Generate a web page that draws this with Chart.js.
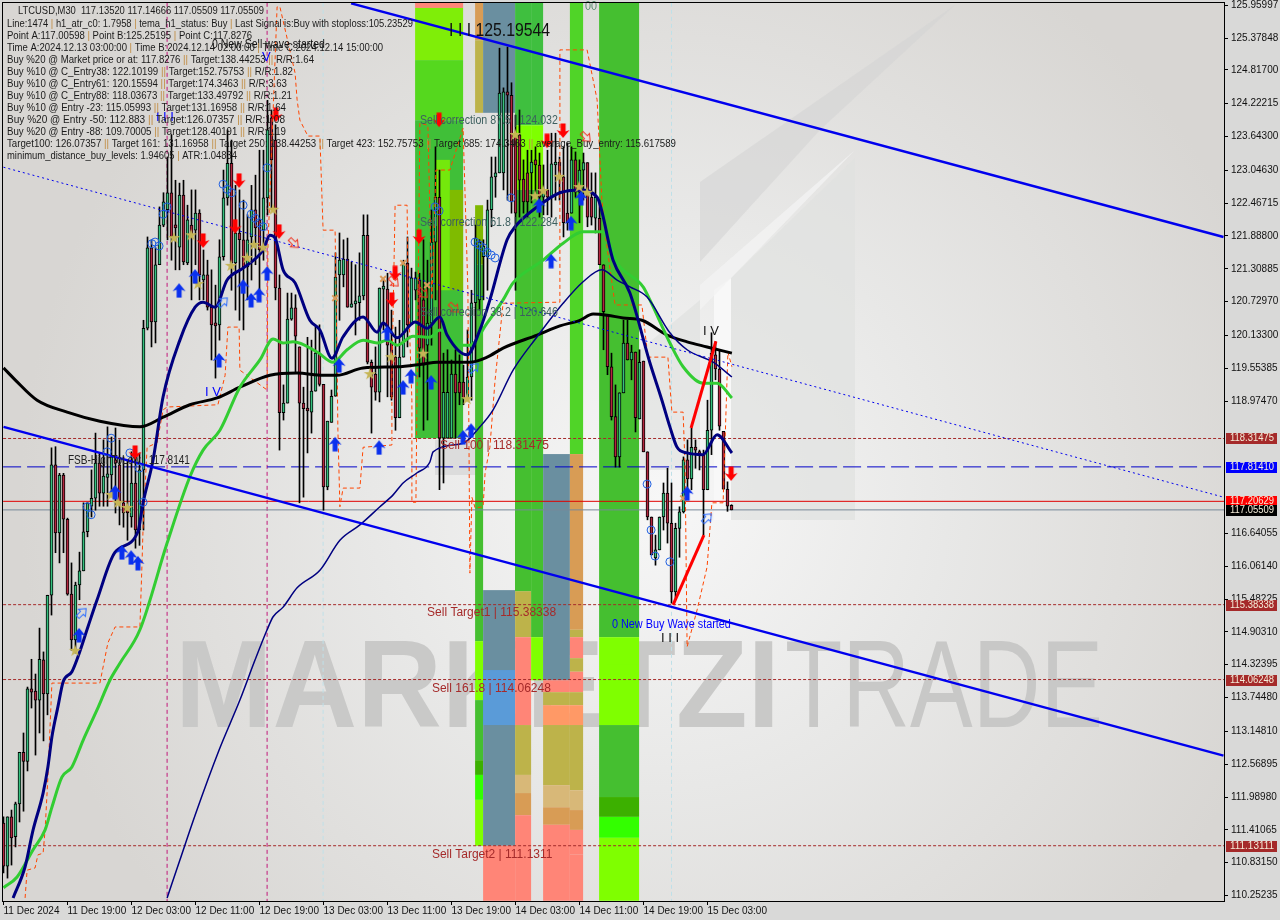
<!DOCTYPE html>
<html>
<head>
<meta charset="utf-8">
<title>LTCUSD,M30</title>
<script src="https://cdn.jsdelivr.net/npm/chart.js@4"></script>
<style>
    html, body { margin: 0; padding: 0; background: #d9d9d8; }
    #wrap { position: relative; width: 1280px; height: 920px; overflow: hidden; }
    #backdrop, #growth { position: absolute; left: 0; top: 0; }
</style>
</head>
<body>
<div id="wrap">
<svg id="backdrop" width="1280" height="920" xmlns="http://www.w3.org/2000/svg">
    <defs>
        <radialGradient id="glow" gradientUnits="userSpaceOnUse" cx="660" cy="500" r="640">
            <stop offset="0" stop-color="#f7f7f7"/>
            <stop offset="0.45" stop-color="#e8e8e7"/>
            <stop offset="1" stop-color="#d8d6d3"/>
        </radialGradient>
    </defs>
    <rect x="3" y="3" width="1221" height="898" fill="url(#glow)"/>
    <polygon points="955,5 700,182 700,262 820,130" fill="#d4d4d3" opacity="0.6"/>
    <polygon points="731,278 855,158 855,520 731,520" fill="#e0e1e0" opacity="0.7"/>
    <polygon points="714,290 731,278 731,520 714,520" fill="#f8f8f8"/>
    <polygon points="700,285 855,150 731,278 700,310" fill="#f2f2f2" opacity="0.8"/>
    <polygon points="640,350 700,300 700,470 640,470" fill="#dedfde" opacity="0.6"/>
    <polygon points="435,440 480,440 480,475 435,475" fill="#dcdcdc"/>
    <text x="175" y="727" font-family="Liberation Sans" font-weight="700" font-size="124" fill="#c9c9c8" textLength="605" lengthAdjust="spacingAndGlyphs">MARKETZI</text>
    <text x="785" y="727" font-family="Liberation Sans" font-size="124" fill="#c8c8c7" textLength="318" lengthAdjust="spacingAndGlyphs">TRADE</text>
</svg>
<canvas id="growth" width="1280" height="920"></canvas>
</div>
<script>
// Candles
const opens = [111.53,110.77,111.64,111.29,111.87,112.78,112.62,113.90,113.86,113.70,
114.41,113.81,115.55,117.85,116.65,117.67,116.89,115.57,114.76,115.73,
115.98,116.67,117.12,117.26,117.88,117.35,117.63,117.67,117.94,117.85,
117.18,117.12,116.93,117.53,116.70,117.76,120.26,121.68,120.37,121.38,
122.08,122.35,122.65,122.08,121.69,122.61,121.41,122.08,121.99,122.29,
121.11,121.20,120.63,120.35,120.32,121.52,122.56,123.17,121.41,121.94,
121.82,121.34,121.87,122.35,122.17,121.99,122.56,123.97,123.58,120.97,
118.77,118.94,120.42,120.62,119.93,118.94,118.84,118.78,119.15,119.82,
119.27,117.46,118.60,119.06,121.20,121.20,121.48,120.63,120.69,120.71,
120.83,121.90,119.66,119.45,119.13,120.95,120.95,120.00,119.75,118.68,
119.75,121.41,120.32,120.93,121.11,120.76,119.96,120.35,121.78,122.57,
118.32,118.32,118.32,119.45,119.31,119.31,119.03,119.40,120.71,120.76,
121.52,121.52,122.35,122.93,123.00,123.00,124.43,124.37,123.67,123.67,
122.89,123.00,123.00,123.23,123.14,122.57,122.70,122.57,123.14,123.19,
122.93,122.29,122.29,123.23,122.66,123.05,123.18,122.57,122.20,122.20,
121.38,120.50,119.58,118.70,117.99,119.12,120.00,119.70,119.84,118.66,
119.68,118.08,116.93,116.21,116.35,116.93,117.35,116.82,115.61,116.73,
117.02,117.94,117.60,118.16,118.06,118.03,117.41,118.46,119.79,119.54,
118.44,117.42,117.1352];
const closes = [110.77,111.64,111.27,111.87,112.78,112.62,113.90,113.84,113.70,114.42,
113.81,115.55,117.85,116.65,117.67,116.89,115.57,114.76,115.73,115.98,
116.67,117.18,117.26,117.88,117.35,117.65,117.69,117.99,117.88,117.18,
117.00,117.00,117.53,116.70,117.76,120.26,121.68,120.37,121.38,122.08,
122.49,122.65,121.87,122.03,122.61,121.43,122.17,121.90,122.29,121.20,
121.20,120.63,120.32,120.30,121.52,122.56,123.17,121.41,121.94,121.82,
121.34,121.82,122.35,122.03,121.64,122.56,123.76,123.23,120.97,118.77,
118.94,120.42,120.62,120.12,118.94,118.84,118.80,119.15,119.82,119.27,
117.46,118.62,119.06,121.16,121.46,121.48,120.63,120.69,120.71,120.83,
121.90,119.66,119.22,119.13,120.97,120.97,119.96,119.05,118.68,119.75,
121.41,120.32,121.15,121.15,119.91,119.61,120.35,121.78,122.57,118.32,
119.13,119.13,119.45,119.12,119.12,119.03,119.40,120.71,121.85,121.78,
121.71,122.35,122.93,123.00,124.41,124.43,124.37,122.49,122.29,122.87,
122.49,122.49,123.19,123.14,122.57,122.70,122.57,123.16,123.19,122.93,
122.12,122.12,123.23,122.66,123.05,123.18,122.22,122.22,122.57,121.38,
120.55,119.58,118.70,117.99,119.12,120.00,119.70,119.84,118.68,119.66,
118.08,116.93,116.26,116.35,116.93,117.35,116.82,115.61,116.73,117.02,
117.94,117.60,118.16,118.11,118.03,117.41,118.46,119.82,119.54,118.53,
117.42,117.12,117.05509];
const highs = [111.64,111.64,111.76,111.90,112.78,113.12,113.93,114.42,114.16,114.97,
114.55,115.55,118.15,118.17,117.70,117.70,116.91,116.12,115.78,116.31,
117.18,117.18,117.76,118.41,118.06,118.29,118.52,118.34,118.50,118.29,
117.99,117.94,118.08,118.11,118.06,120.40,121.87,121.82,121.68,122.40,
122.65,123.28,123.67,122.87,122.82,122.87,122.43,122.70,122.70,122.35,
121.64,121.46,121.29,121.02,121.82,123.05,123.76,123.58,122.78,122.70,
122.52,122.26,122.78,122.96,123.40,123.40,124.28,124.11,123.85,121.20,
119.26,120.88,120.88,120.85,119.93,119.22,120.10,120.05,120.28,120.32,
119.27,118.62,119.17,121.59,121.94,121.82,121.85,121.43,121.38,121.59,
122.26,122.26,119.70,119.93,120.97,121.11,121.23,120.58,120.28,120.40,
121.46,121.87,121.32,121.25,121.23,121.82,121.46,122.35,123.46,123.05,
119.82,119.88,119.70,119.88,119.79,119.61,120.23,120.93,122.08,121.82,
121.82,122.52,123.28,123.28,125.20,124.50,125.22,124.59,124.02,124.11,
123.23,123.40,123.40,123.46,123.35,123.14,123.40,123.70,123.70,123.28,
123.46,123.53,123.46,123.37,123.23,123.35,123.18,123.00,123.00,122.52,
121.38,120.50,119.82,119.26,119.12,120.40,120.40,119.96,119.84,119.88,
119.68,118.08,116.93,116.61,116.93,117.53,117.79,117.53,116.82,117.11,
117.99,118.29,118.50,118.29,118.11,118.11,118.99,120.18,120.02,119.88,
118.44,117.55,117.14666];
const lows = [110.65,110.56,110.79,111.11,111.55,111.74,112.45,113.56,112.73,113.12,
112.98,113.44,115.20,116.30,116.12,116.30,115.55,114.58,114.53,115.47,
115.98,116.58,116.93,117.05,117.12,117.12,117.12,117.35,117.00,116.79,
116.75,116.52,116.75,116.38,116.43,116.70,120.23,119.93,120.00,121.38,
122.05,121.82,121.46,121.29,121.29,121.38,121.38,120.76,121.38,120.76,
120.76,120.58,119.70,119.38,120.05,121.46,122.43,120.93,120.58,120.40,
120.23,120.76,121.11,121.38,120.76,121.46,122.26,122.35,120.76,118.11,
118.64,118.94,120.40,119.47,117.18,117.28,118.06,118.41,119.15,119.24,
117.05,117.41,118.60,119.06,120.40,120.99,120.63,120.63,120.14,120.40,
120.76,119.63,118.41,118.99,118.96,120.23,119.05,118.99,118.46,118.68,
119.75,119.93,120.32,120.76,119.40,118.46,118.64,119.96,120.76,117.41,
117.53,118.32,118.32,118.32,118.91,118.91,119.03,118.99,119.70,120.58,
120.76,120.93,122.05,122.57,123.00,122.70,122.52,122.29,120.93,122.22,
122.29,122.22,122.47,122.57,122.22,122.26,122.26,122.22,122.52,122.52,
121.87,121.99,122.29,122.57,122.12,122.52,122.05,122.08,121.94,121.38,
119.88,119.44,118.64,117.81,117.81,119.12,119.70,119.35,118.43,118.66,
118.08,116.88,116.26,116.08,116.35,116.70,116.47,115.41,115.47,116.22,
117.00,117.41,117.41,117.79,117.76,116.61,117.41,118.03,119.35,118.46,
117.42,117.03,117.05509];

// Moving averages, as bar number and price
const fastBars = [2.4,5.4,7.4,9.9,11.1,12.1,13.6,14.9,17.1,18.6,21.1,23.4,27.9,33.6,34.9,37.4,39.9,44.1,47.9,49.9,52.9,55.9,59.9,64.9,66.6,67.9,69.9,72.9,76.6,79.1,82.1,84.9,89.9,93.4,94.9,98.4,102.9,105.9,109.1,110.9,115.9,119.1,121.6,125.9,127.9,133.4,139.1,144.1,148.4,152.4,156.6,161.6,164.6,166.6,168.4,170.9,174.9,178.4,182.1];
const fastPrices = [110.21,110.76,111.41,112.06,112.52,113.05,113.58,114.02,114.20,114.46,114.99,115.47,116.31,116.67,117.18,117.94,119.05,120.05,120.63,120.72,120.63,121.11,121.32,121.64,121.90,121.85,121.29,121.06,120.40,120.23,119.73,120.11,120.46,120.19,120.35,120.09,120.37,120.26,120.46,120.14,119.79,120.23,120.76,121.82,122.05,122.40,122.65,122.70,122.57,121.46,120.88,119.65,118.99,118.52,118.16,118.06,118.03,118.38,118.06];
const greenBars = [0,3.4,7.4,10.4,12.1,14.6,17.1,19.9,23.4,26.6,29.1,34.1,40.9,46.6,49.9,54.1,59.1,64.1,67.4,69.9,72.4,78.4,82.4,85.9,89.9,93.4,95.9,98.4,102.4,106.6,109.1,114.1,116.6,120.9,124.9,127.4,134.9,139.9,144.9,149.9,153.4,159.9,161.6,166.6,169.9,174.9,178.4,182.1];
const greenPrices = [110.39,110.58,111.06,111.41,111.81,112.34,112.52,112.99,113.53,114.05,114.35,114.94,116.47,117.64,118.11,118.46,119.22,119.70,120.07,120.00,120.02,119.84,119.66,119.88,120.05,120.00,120.05,119.96,120.12,120.10,120.23,119.96,119.96,120.35,120.76,121.06,121.46,121.76,121.96,121.96,121.41,120.99,120.76,120.00,119.58,119.29,119.29,119.03];
const slowBars = [40.9,44.1,47.9,53.9,59.1,62.9,65.9,67.4,69.9,73.4,79.1,84.1,89.1,94.1,97.4,99.9,103.4,106.6,107.4,114.9,119.1,122.4,127.4,133.4,139.9,144.9,149.6,153.4,156.6,160.9,166.6,170.9,177.4,182.1];
const slowPrices = [110.21,110.88,111.67,112.82,113.70,114.41,114.94,115.17,115.34,115.68,115.99,116.52,116.79,117.11,117.32,117.53,117.71,117.90,118.08,118.23,118.52,118.82,119.52,120.11,120.70,121.08,121.29,121.11,120.99,120.81,120.18,119.88,119.66,119.40];
const blackBars = [0,2.9,8.4,15.9,24.1,34.1,39.9,46.6,53.4,59.1,66.6,73.4,79.9,83.4,89.9,98.4,104.9,108.4,116.6,120.9,124.9,133.4,139.1,144.1,147.4,150.9,154.9,159.6,165.9,170.9,175.9,182.1];
const blackPrices = [119.56,119.35,118.99,118.78,118.62,118.52,118.69,118.91,119.03,119.22,119.43,119.47,119.43,119.43,119.56,119.58,119.63,119.66,119.66,119.75,119.91,120.14,120.30,120.40,120.51,120.49,120.44,120.40,120.14,120.02,119.93,119.82];

// Orange stepped band
const bandBars = [5.4,5.9,7.9,8.6,9.9,10.4,11.1,11.6,12.1,24.1,26.1,27.9,34.1,34.6,34.9,35.9,38.4,39.9,40.9,53.6,55.4,56.1,58.9,59.1,65.9,66.1,68.4,69.1,72.9,73.4,74.1,76.1,79.1,79.9,82.9,83.4,83.6,84.1,84.9,89.1,89.9,97.1,97.1,97.9,100.9,101.1,102.1,102.1,103.1,103.4,104.1,106.1,107.1,108.1,111.6,112.4,114.9,116.1,116.6,117.1,117.9,119.9,120.4,121.6,122.9,124.9,139.1,139.1,145.9,148.4,149.6,150.4,152.9,159.6,161.1,166.1,167.1,169.9,170.4,170.9,173.4,175.9,177.1,179.9,181.1,182.1];
const bandPrices = [110.21,110.70,110.74,110.97,111.00,111.41,112.34,113.17,114.00,114.00,114.71,114.99,114.99,116.05,116.75,118.16,118.24,118.82,118.87,118.91,119.43,120.28,120.28,119.52,119.17,121.69,125.93,125.93,124.76,124.29,123.93,123.65,123.65,121.99,121.99,119.65,118.46,117.11,117.44,117.44,118.16,118.20,119.40,122.43,122.43,121.11,118.99,117.19,117.19,119.22,123.88,123.84,120.76,123.05,123.05,123.23,123.79,120.93,115.94,117.28,117.09,117.11,117.71,118.16,119.35,120.70,120.72,125.17,125.17,124.29,122.52,121.94,120.67,120.67,119.75,119.75,118.78,118.78,117.81,114.64,115.29,116.05,117.18,117.18,119.84,119.58];

// Trend lines, first and last point
const channelTopBars = [86.9,305];
const channelTopPrices = [125.99,121.87];
const channelLowBars = [0,305];
const channelLowPrices = [118.52,112.72];
const dottedBars = [0,305];
const dottedPrices = [123.10,117.28];
const wavePriceBars = [[167.4,175.1],[171.9,178.1]];
const wavePrices = [[115.38,116.61],[118.50,120.03]];

// Horizontal levels
const targetLevels = [118.31475,115.38338,114.06248,111.13111];
const fsbLevel = 117.8141;
const bidLevel = 117.20629;
const lastLevel = 117.05509;

// Session markers
const magentaBars = [40.9,65.9];
const paleBars = [79.9,167];

// Markers, as bar number and price
const upBars = [18.9,27.9,29.6,31.9,33.6,43.9,47.9,53.9,59.9,61.9,63.9,65.9,83.9,82.9,93.9,95.9,99.9,101.9,106.9,114.9,116.9,133.9,141.9,136.9,144.4,170.9];
const upPrices = [114.85,117.37,116.31,116.22,116.12,120.93,121.18,119.70,121.00,120.76,120.85,121.23,119.61,118.22,118.16,120.18,119.22,119.42,119.31,118.34,118.46,122.43,122.12,121.45,122.56,117.35];
const downBars = [32.9,58.9,68.1,49.9,57.9,68.9,97.9,97.1,103.9,108.9,139.9,135.9,181.9];
const downPrices = [118.06,122.86,124.02,121.80,122.05,121.96,121.23,120.76,121.87,123.93,123.74,123.56,117.69];
const starBars = [17.9,26.9,28.6,30.9,42.6,46.9,48.6,56.9,60.9,62.6,64.9,67.4,91.6,96.9,104.9,115.9,127.9,138.9,132.9,134.9,143.9,145.9];
const starPrices = [114.57,117.32,117.18,117.09,121.85,121.90,121.04,121.36,121.50,121.73,121.68,122.35,119.45,119.75,119.81,119.01,123.67,122.93,122.59,122.68,122.75,122.65];
const crossBars = [82.9,94.9,99.9,105.9,169.9];
const crossPrices = [120.79,121.13,121.41,121.02,117.26];
const ringBars = [20.9,21.9,26.9,25.9,31.6,33.9,34.9,37.1,37.9,38.9,39.9,40.9,54.9,55.9,57.1,59.9,61.9,62.9,63.9,64.9,65.9,107.9,108.9,126.9,117.9,118.9,119.9,120.9,121.9,122.9,160.9,161.9,162.9,166.6];
const ringPrices = [117.11,116.97,118.32,118.08,118.06,117.79,117.19,121.75,121.78,121.71,122.27,122.40,122.80,122.71,122.65,122.43,122.27,122.20,122.12,122.05,123.09,122.40,122.33,122.56,121.78,121.73,121.68,121.60,121.55,121.50,117.51,116.70,116.24,116.14];
const hollowUpBars = [19.6,54.9,117.6,175.9];
const hollowUpPrices = [115.24,120.72,119.56,116.91];
const hollowDownBars = [72.6,97.6,145.6,104.9,112.6];
const hollowDownPrices = [121.76,121.08,123.63,120.88,120.62];

// Coloured blocks behind the candles
const zoneFrom = [102.9,102.9,102.9,102.9,108.1,111.6,
  117.9,117.9,117.9,117.9,117.9,117.9,117.9,117.9,117.9,
  119.9,119.9,119.9,119.9,
  127.9,127.9,127.9,127.9,127.9,127.9,127.9,127.9,127.9,127.9,
  131.9,131.9,131.9,131.9,
  134.9,134.9,134.9,134.9,134.9,134.9,134.9,134.9,
  141.6,141.6,141.6,141.6,141.6,141.6,141.6,141.6,141.6,141.6,141.6,141.6,141.6,
  148.9,148.9,151.1,148.9,148.9,148.9,148.9];
const zoneTo = [114.9,114.9,114.9,114.9,111.6,114.9,
  119.9,119.9,119.9,119.9,119.9,119.9,119.9,119.9,119.9,
  127.9,127.9,127.9,127.9,
  131.9,131.9,131.9,131.9,131.9,131.9,131.9,131.9,131.9,131.9,
  134.9,134.9,134.9,134.9,
  141.6,141.6,141.6,141.6,141.6,141.6,141.6,141.6,
  144.9,144.9,144.9,144.9,144.9,144.9,144.9,144.9,144.9,144.9,144.9,144.9,144.9,
  158.9,158.9,158.4,158.9,158.9,158.9,158.9];
const zoneTop = [126.00,125.91,124.99,123.93,123.23,122.70,
  126.00,125.34,122.43,121.38,114.74,113.70,112.64,112.38,111.94,
  126.00,115.64,114.23,111.13,
  126.00,123.84,122.70,118.46,115.62,114.81,113.26,112.38,112.06,111.67,
  126.00,123.84,122.70,114.81,
  118.04,114.05,113.84,113.61,113.26,112.20,111.81,111.50,
  126.00,118.04,114.94,114.81,114.44,114.20,113.84,113.61,113.26,112.11,111.76,111.41,110.98,
  126.00,114.81,114.32,113.26,111.99,111.64,111.27];
const zoneBottom = [125.91,124.99,123.93,118.32,120.93,120.93,
  125.34,124.06,121.38,114.74,113.70,112.64,112.38,111.94,111.13,
  124.06,111.13,113.26,110.16,
  123.84,122.70,115.62,115.62,114.81,113.26,112.38,112.06,111.67,110.16,
  123.84,122.70,114.81,114.05,
  114.05,113.84,113.61,113.26,112.20,111.81,111.50,110.16,
  118.04,114.94,114.81,114.44,114.20,113.84,113.61,113.26,112.11,111.76,111.41,110.98,110.16,
  114.81,113.26,113.26,111.99,111.64,111.27,110.16];
const zoneColours = ['#ff8577','#7fee08','#55d81e','#40bf38','#74e80c','#7fbb00',
  '#d89c55','#bdb34a','#7fb800','#45bf30','#7fff00','#45bf30','#3cb000','#33ff00','#7fff00',
  '#6a8fa0','#6a8fa0','#5a9bd8','#ff8577',
  '#3fbf3f','#7fff00','#45c030','#45bf30','#bdb34a','#ff8577','#bdb34a','#d8b878','#d89c55','#ff8577',
  '#3fbf3f','#7fff00','#45c030','#7fff00',
  '#6a8fa0','#ff8577','#bdb34a','#ff9966','#bdb34a','#d8b878','#d89c55','#ff8577',
  '#50d428','#d89c55','#bdb34a','#ff8577','#bdb34a','#ff8577','#bdb34a','#ff9966','#bdb34a','#d8b878','#d89c55','#ff8577','#ff8577',
  '#45bf30','#7fff00','#7fff00','#45bf30','#3cb000','#33ff00','#7fff00'];

// Axis ticks
const timeTickBars = [0,16,32,48,64,80,96,112,128,144,160,176];
const timeTickLabels = ['11 Dec 2024','11 Dec 19:00','12 Dec 03:00','12 Dec 11:00','12 Dec 19:00','13 Dec 03:00','13 Dec 11:00','13 Dec 19:00','14 Dec 03:00','14 Dec 11:00','14 Dec 19:00','15 Dec 03:00'];
const priceTicks = [125.95997,125.37848,124.817,124.22215,123.643,123.0463,122.46715,121.888,121.30885,120.7297,120.133,119.55385,118.9747,116.64055,116.0614,115.48225,114.9031,114.32395,113.7448,113.1481,112.56895,111.9898,111.41065,110.8315,110.25235];
const priceTickLabels = ['125.95997','125.37848','124.81700','124.22215','123.64300','123.04630','122.46715','121.88800','121.30885','120.72970','120.13300','119.55385','118.97470','116.64055','116.06140','115.48225','114.90310','114.32395','113.74480','113.14810','112.56895','111.98980','111.41065','110.83150','110.25235'];

// Text block in the top left corner
const infoLines = [
    'Line:1474 | h1_atr_c0: 1.7958 | tema_h1_status: Buy | Last Signal is:Buy with stoploss:105.23529',
    'Point A:117.00598 | Point B:125.25195 | Point C:117.8276',
    'Time A:2024.12.13 03:00:00 | Time B:2024.12.14 02:00:00 | Time C:2024.12.14 15:00:00',
    'Buy %20 @ Market price or at: 117.8276 || Target:138.44253 || R/R:1.64',
    'Buy %10 @ C_Entry38: 122.10199 || Target:152.75753 || R/R:1.82',
    'Buy %10 @ C_Entry61: 120.15594 || Target:174.3463 || R/R:3.63',
    'Buy %10 @ C_Entry88: 118.03673 || Target:133.49792 || R/R:1.21',
    'Buy %10 @ Entry -23: 115.05993 || Target:131.16958 || R/R:1.64',
    'Buy %20 @ Entry -50: 112.883 || Target:126.07357 || R/R:1.08',
    'Buy %20 @ Entry -88: 109.70005 || Target:128.40191 || R/R:1.19',
    'Target100: 126.07357 || Target 161: 131.16958 || Target 250: 138.44253 || Target 423: 152.75753 || Target 685: 174.3463 || average_Buy_entry: 115.617589',
    'minimum_distance_buy_levels: 1.94605 | ATR:1.04834'
];
const infoEnds = [413,252,383,314,293,287,292,286,285,286,676,237];

// Notes on the chart: text, bar, price
const noteTexts = ['0 New Sell wave started','I I I 125.19544','00','Sell correction 87.5 | 124.032','Sell correction 61.8 | 122.284','Sell correction 38.2 | 120.646','Sell 100 | 118.31475','Sell Target1 | 115.38338','Sell 161.8 | 114.06248','Sell Target2 | 111.1311','0 New Buy Wave started','FSB-HighToLow | 117.8141','I V','I V','V','I I I','I I I'];
const noteBars = [52.1,111.4,145.4,104.1,104.1,104.1,109.1,105.9,107.1,107.1,152.1,16.1,174.9,50.4,64.6,38.1,164.4];
const notePrices = [125.26,125.50,125.93,123.92,122.13,120.53,118.18,115.24,113.91,110.98,115.03,117.92,120.21,119.12,125.04,123.97,114.78];
const noteColours = ['#111111','#111111','#5a8f70','#3d5f5f','#3d5f5f','#3d5f5f','#a52a2a','#a52a2a','#a52a2a','#a52a2a','#0000ff','#222222','#111111','#0000ff','#0000ff','#0000ff','#111111'];
const noteSizes = [12,18,12,12,12,12,12,12,12,12,12,12,13,13,13,13,13];
const noteWidths = [113,101,12,138,138,138,113,141,125,133,119,122,20,18,10,22,22];

// Price tags on the right axis
const tagPrices = [118.31475,117.8141,117.20629,117.05509,115.38338,114.06248,111.13111];
const tagLabels = ['118.31475','117.81410','117.20629','117.05509','115.38338','114.06248','111.13111'];
const tagColours = ['#a52a2a','#0000ff','#ff0000','#000000','#a52a2a','#a52a2a','#a52a2a'];

const FONT = '"Liberation Sans", sans-serif';

function pairs(xs, ys) {
    return xs.map((x, i) => ({ x: x, y: ys[i] }));
}

function lineSet(xs, ys, colour, width, dash, order, smooth) {
    return {
        type: 'line',
        data: pairs(xs, ys),
        borderColor: colour,
        borderWidth: width,
        borderDash: dash || [],
        pointRadius: 0,
        tension: smooth ? 0.4 : 0,
        cubicInterpolationMode: smooth ? 'monotone' : 'default',
        fill: false,
        order: order
    };
}

function levelSet(price, colour, width, dash, order) {
    return lineSet([-0.1, 305.2], [price, price], colour, width, dash, order);
}

function markerSet(xs, ys, style, order, extra) {
    return Object.assign({
        type: 'line',
        data: pairs(xs, ys),
        showLine: false,
        pointStyle: style,
        pointRadius: 6,
        order: order
    }, extra || {});
}

// Small pictures for the arrows and stars
function arrowIcon(colour, down) {
    const c = document.createElement('canvas');
    c.width = 14; c.height = 16;
    const g = c.getContext('2d');
    if (down) { g.translate(0, 16); g.scale(1, -1); }
    g.beginPath();
    g.moveTo(7, 1); g.lineTo(13.5, 9); g.lineTo(9.5, 7.5); g.lineTo(9.5, 15.5);
    g.lineTo(4.5, 15.5); g.lineTo(4.5, 7.5); g.lineTo(0.5, 9); g.closePath();
    g.fillStyle = colour;
    g.fill();
    return c;
}

function starIcon(colour) {
    const c = document.createElement('canvas');
    c.width = 14; c.height = 14;
    const g = c.getContext('2d');
    g.beginPath();
    for (let i = 0; i < 10; i++) {
        const r = i % 2 ? 2.4 : 6.6;
        const a = -Math.PI / 2 + i * Math.PI / 5;
        g.lineTo(7 + r * Math.cos(a), 7 + r * Math.sin(a));
    }
    g.closePath();
    g.fillStyle = colour;
    g.fill();
    return c;
}

function hollowIcon(colour, pointsDown) {
    const c = document.createElement('canvas');
    c.width = 14; c.height = 14;
    const g = c.getContext('2d');
    g.translate(7, 7);
    g.rotate(pointsDown ? Math.PI * 0.75 : Math.PI * 0.25);
    g.translate(-7, -7);
    g.beginPath();
    g.moveTo(7, 1); g.lineTo(12, 7); g.lineTo(9, 7); g.lineTo(9, 13);
    g.lineTo(5, 13); g.lineTo(5, 7); g.lineTo(2, 7); g.closePath();
    g.strokeStyle = colour; g.lineWidth = 1; g.stroke();
    return c;
}

// Blocks go in under everything else
const zonePlugin = {
    id: 'zones',
    beforeDatasetsDraw(chart) {
        const { ctx, scales: { x, y }, chartArea: a } = chart;
        ctx.save();
        ctx.beginPath();
        ctx.rect(a.left, a.top, a.width, a.height);
        ctx.clip();
        zoneFrom.forEach((from, i) => {
            const left = x.getPixelForValue(from);
            const right = x.getPixelForValue(zoneTo[i]);
            const top = y.getPixelForValue(zoneTop[i]);
            const bottom = y.getPixelForValue(zoneBottom[i]);
            ctx.fillStyle = zoneColours[i];
            ctx.fillRect(left, top, right - left, bottom - top);
        });
        ctx.restore();
    }
};

// All the text that sits on the chart, plus the frame and the price tags
const textPlugin = {
    id: 'texts',
    afterDatasetsDraw(chart) {
        const { ctx, scales: { x, y } } = chart;
        ctx.save();
        ctx.textBaseline = 'middle';
        ctx.textAlign = 'left';

        noteTexts.forEach((text, i) => {
            ctx.font = noteSizes[i] + 'px ' + FONT;
            ctx.fillStyle = noteColours[i];
            ctx.fillText(text, x.getPixelForValue(noteBars[i]), y.getPixelForValue(notePrices[i]), noteWidths[i]);
        });

        ctx.font = '11px ' + FONT;
        ctx.fillStyle = '#1a1a1a';
        ctx.fillText('LTCUSD,M30  117.13520 117.14666 117.05509 117.05509', 18, 11, 246);

        infoLines.forEach((line, i) => {
            const rowY = 24 + i * 12;
            const scaleX = (infoEnds[i] - 7) / ctx.measureText(line).width;
            ctx.save();
            ctx.translate(7, rowY);
            ctx.scale(scaleX, 1);
            let at = 0;
            line.split(/(\|+)/).forEach(part => {
                ctx.fillStyle = part[0] === '|' ? '#c08a3e' : '#1a1a1a';
                ctx.fillText(part, at, 0);
                at += ctx.measureText(part).width;
            });
            ctx.restore();
        });
        ctx.restore();
    },
    afterDraw(chart) {
        const { ctx, scales: { y }, chartArea: a } = chart;
        ctx.save();
        ctx.strokeStyle = '#000000';
        ctx.lineWidth = 1;
        ctx.strokeRect(a.left - 0.5, a.top - 0.5, a.width + 1, a.height + 1);

        ctx.font = '10px ' + FONT;
        ctx.textBaseline = 'middle';
        ctx.textAlign = 'left';
        tagPrices.forEach((price, i) => {
            const py = Math.round(y.getPixelForValue(price));
            ctx.fillStyle = tagColours[i];
            ctx.fillRect(a.right + 2, py - 5, 51, 11);
            ctx.fillStyle = '#f4ecd8';
            ctx.fillText(tagLabels[i], a.right + 6, py + 0.5, 44);
        });
        ctx.restore();
    }
};

function initChart() {
    const ctx = document.getElementById('growth').getContext('2d');

    new Chart(ctx, {
        type: 'bar',
        data: {
            datasets: [
                // Arrows and other markers on top
                markerSet(upBars, upPrices, arrowIcon('#0a30ee', false), 1),
                markerSet(downBars, downPrices, arrowIcon('#ff0000', true), 1),
                markerSet(hollowUpBars, hollowUpPrices, hollowIcon('#2a6bff', false), 1),
                markerSet(hollowDownBars, hollowDownPrices, hollowIcon('#ee3322', true), 1),
                markerSet(starBars, starPrices, starIcon('#c6b556'), 2),
                markerSet(crossBars, crossPrices, 'crossRot', 2, { borderColor: '#d99a5a', borderWidth: 2, pointRadius: 4 }),
                markerSet(ringBars, ringPrices, 'circle', 2, { borderColor: '#1f5fe0', backgroundColor: 'rgba(0,0,0,0)', borderWidth: 1, pointRadius: 4 }),

                // Wave legs and channels
                lineSet(wavePriceBars[0], wavePrices[0], '#ff0000', 3, [], 3),
                lineSet(wavePriceBars[1], wavePrices[1], '#ff0000', 3, [], 3),
                lineSet(channelTopBars, channelTopPrices, '#0000ee', 2.5, [], 4),
                lineSet(channelLowBars, channelLowPrices, '#0000ee', 2.5, [], 4),
                lineSet(dottedBars, dottedPrices, '#0000ee', 1, [2, 3], 5),

                // Moving averages
                lineSet(fastBars, fastPrices, '#000080', 3, [], 6, true),
                lineSet(slowBars, slowPrices, '#000080', 1.5, [], 7, true),
                lineSet(greenBars, greenPrices, '#32cd32', 3, [], 8, true),
                lineSet(blackBars, blackPrices, '#000000', 3, [], 9, true),
                lineSet(bandBars, bandPrices, '#ff4500', 1, [4, 3], 10),

                // Candle bodies over wicks
                {
                    data: opens.map((o, i) => ({ x: i, y: [o, closes[i]] })),
                    backgroundColor: opens.map((o, i) => closes[i] >= o ? '#35c07e' : '#b3263f'),
                    borderColor: '#000000',
                    borderWidth: 1,
                    borderSkipped: false,
                    barThickness: 3,
                    minBarLength: 3,
                    grouped: false,
                    order: 11
                },
                {
                    data: highs.map((h, i) => ({ x: i, y: [lows[i], h] })),
                    backgroundColor: '#000000',
                    borderWidth: 0,
                    barThickness: 1,
                    grouped: false,
                    order: 12
                },

                // Price levels and session lines under the candles
                levelSet(targetLevels[0], '#a52a2a', 1, [3, 2], 13),
                levelSet(targetLevels[1], '#a52a2a', 1, [3, 2], 13),
                levelSet(targetLevels[2], '#a52a2a', 1, [3, 2], 13),
                levelSet(targetLevels[3], '#a52a2a', 1, [3, 2], 13),
                levelSet(fsbLevel, '#0000c8', 1, [18, 6], 13),
                levelSet(bidLevel, '#e00000', 1, [], 13),
                levelSet(lastLevel, '#778899', 1, [], 13),
                lineSet([magentaBars[0], magentaBars[0]], [110, 126.1], '#c2187a', 1, [4, 3], 14),
                lineSet([magentaBars[1], magentaBars[1]], [110, 126.1], '#c2187a', 1, [4, 3], 14),
                lineSet([paleBars[0], paleBars[0]], [110, 126.1], '#bfe0e8', 1, [4, 3], 14),
                lineSet([paleBars[1], paleBars[1]], [110, 126.1], '#bfe0e8', 1, [4, 3], 14)
            ]
        },
        options: {
            responsive: false,
            animation: false,
            devicePixelRatio: 1,
            layout: { autoPadding: false, padding: { left: 3, top: 3, right: 0, bottom: 0 } },
            plugins: {
                legend: { display: false },
                tooltip: { enabled: false }
            },
            scales: {
                x: {
                    type: 'linear',
                    offset: false,
                    min: -0.125,
                    max: 305.125,
                    afterFit: axis => { axis.height = 19; },
                    afterBuildTicks: axis => { axis.ticks = timeTickBars.map(v => ({ value: v })); },
                    grid: { drawOnChartArea: false, drawTicks: true, tickLength: 4, color: '#000000', offset: false },
                    border: { color: '#000000' },
                    ticks: {
                        autoSkip: false,
                        maxRotation: 0,
                        align: 'start',
                        padding: 0,
                        color: '#111111',
                        font: { family: 'Liberation Sans', size: 10 },
                        callback: (value, i) => timeTickLabels[i]
                    }
                },
                y: {
                    position: 'right',
                    min: 110.156,
                    max: 125.997,
                    afterFit: axis => { axis.width = 56; },
                    afterBuildTicks: axis => { axis.ticks = priceTicks.map(v => ({ value: v })); },
                    grid: { drawOnChartArea: false, drawTicks: true, tickLength: 4, color: '#000000' },
                    border: { color: '#000000' },
                    ticks: {
                        autoSkip: false,
                        padding: 3,
                        color: '#111111',
                        // lineHeight 0 stops the top label pushing the plot down
                        font: { family: 'Liberation Sans', size: 10, lineHeight: 0 },
                        callback: (value, i) => priceTickLabels[i]
                    }
                }
            }
        },
        plugins: [zonePlugin, textPlugin]
    });
}

document.addEventListener('DOMContentLoaded', initChart);
</script>
</body>
</html>
